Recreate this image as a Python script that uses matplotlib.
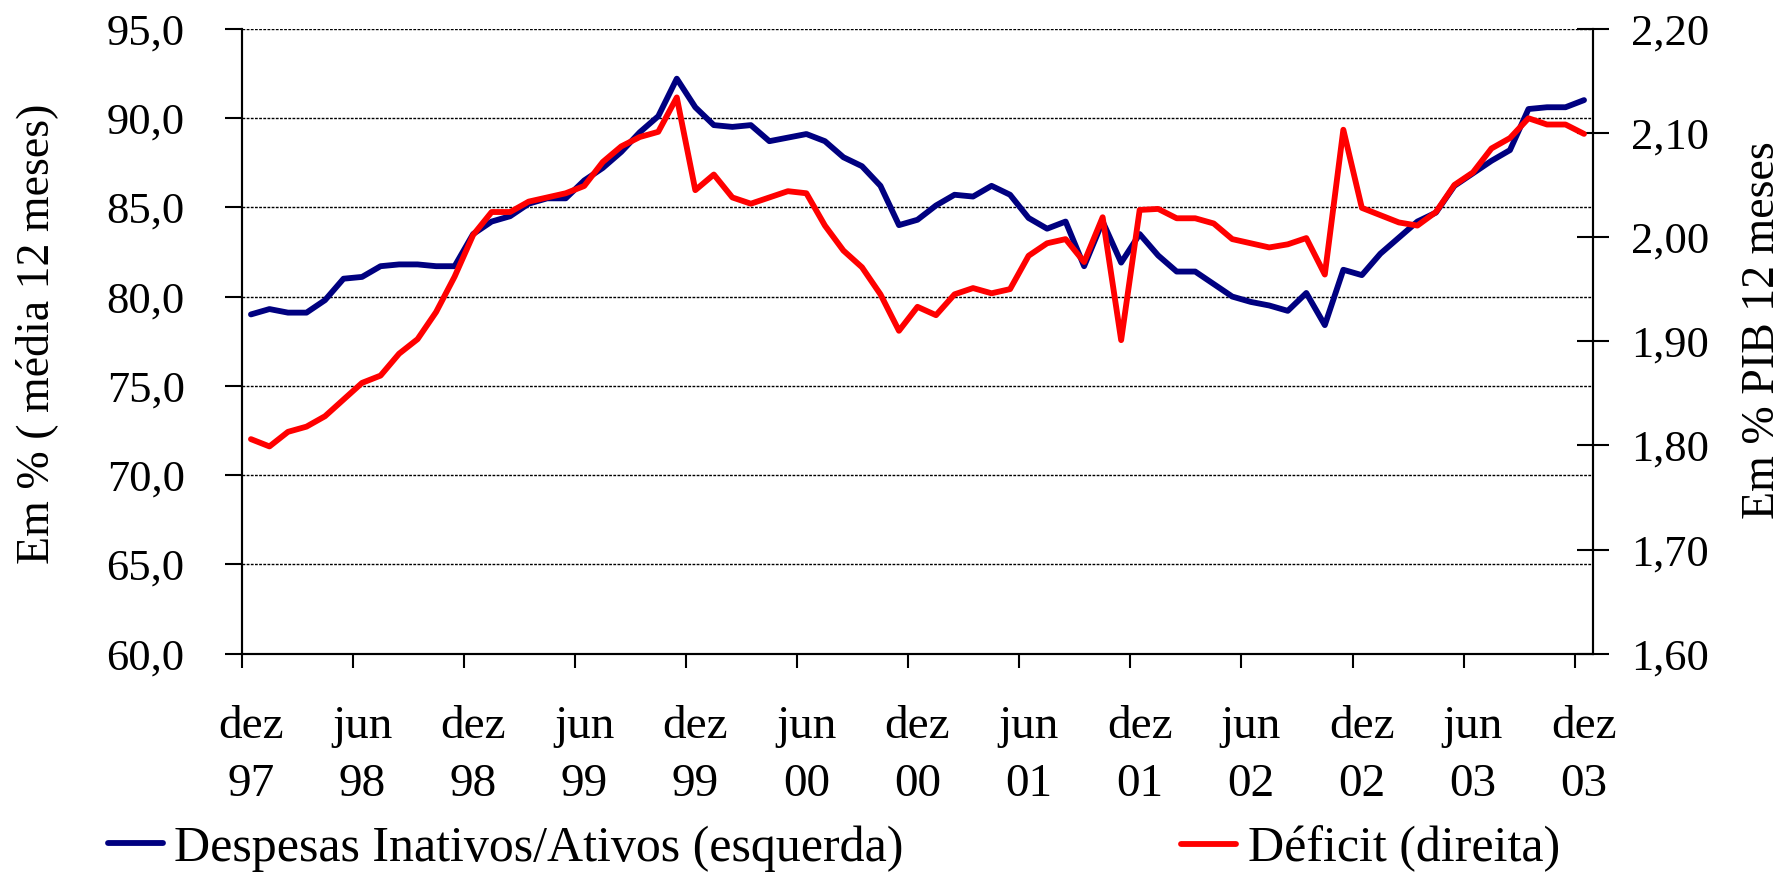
import matplotlib
matplotlib.use("Agg")
import matplotlib.pyplot as plt
import numpy as np
from matplotlib.ticker import FuncFormatter

# monthly data, dez/97 .. dez/03
despesas = [79.0, 79.3, 79.1, 79.1, 79.8, 81.0, 81.1, 81.7, 81.8, 81.8, 81.7, 81.7, 83.5, 84.2, 84.5, 85.2, 85.5, 85.5, 86.5,
            87.2, 88.1, 89.2, 90.1, 92.2, 90.6, 89.6, 89.5, 89.6, 88.7, 88.9, 89.1, 88.7, 87.8, 87.3, 86.2, 84.0, 84.3, 85.1,
            85.7, 85.6, 86.2, 85.7, 84.4, 83.8, 84.2, 81.7, 84.2, 81.9, 83.5, 82.3, 81.4, 81.4, 80.7, 80.0, 79.7, 79.5,
            79.2, 80.2, 78.4, 81.5, 81.2, 82.4, 83.3, 84.2, 84.7, 86.2, 86.9, 87.6, 88.2, 90.5, 90.6, 90.6, 91.0]

deficit = [1.806, 1.799, 1.813, 1.818, 1.828, 1.844, 1.860, 1.867, 1.888, 1.902, 1.928, 1.962, 2.002, 2.024, 2.024, 2.034, 2.038, 2.042, 2.049,
           2.072, 2.087, 2.096, 2.101, 2.134, 2.045, 2.060, 2.038, 2.032, 2.038, 2.044, 2.042, 2.011, 1.987, 1.971, 1.945, 1.910, 1.933, 1.925,
           1.945, 1.951, 1.946, 1.950, 1.982, 1.994, 1.998, 1.976, 2.019, 1.901, 2.026, 2.027, 2.018, 2.018, 2.013, 1.998, 1.994, 1.990,
           1.993, 1.999, 1.964, 2.103, 2.028, 2.021, 2.014, 2.011, 2.024, 2.050, 2.062, 2.085, 2.095, 2.114, 2.108, 2.108, 2.099]

tick_labels = ["dez\n97", "jun\n98", "dez\n98", "jun\n99", "dez\n99", "jun\n00", "dez\n00",
               "jun\n01", "dez\n01", "jun\n02", "dez\n02", "jun\n03", "dez\n03"]

left_ticks = [60, 65, 70, 75, 80, 85, 90, 95]
right_ticks = [1.6, 1.7, 1.8, 1.9, 2.0, 2.1, 2.2]

plt.rcParams['font.family'] = ['Liberation Serif', 'DejaVu Serif']

fig = plt.figure(figsize=(17.89, 8.74), dpi=100)
ax = fig.add_axes([0.1351, 0.252, 0.8906 - 0.1351, 0.9672 - 0.252])
ax2 = ax.twinx()

x = np.arange(len(despesas))
l1, = ax.plot(x, despesas, color='#000080', lw=4.2, solid_joinstyle='round', solid_capstyle='round')
l2, = ax2.plot(x, deficit, color='#ff0000', lw=4.2, solid_joinstyle='round', solid_capstyle='round')

ax.set_xlim(-0.5, 72.5)
ax.set_ylim(60, 95)
ax2.set_ylim(1.6, 2.2)

# dotted grid lines at the left ticks
for v in left_ticks[1:]:
    ax.axhline(v, color='black', lw=1.0, ls=(0, (2, 1)), zorder=0.5)

ax.set_yticks(left_ticks)
ax.yaxis.set_major_formatter(FuncFormatter(lambda v, p: f"{v:.1f}".replace('.', ',')))
ax2.set_yticks(right_ticks)
ax2.yaxis.set_major_formatter(FuncFormatter(lambda v, p: f"{v:.2f}".replace('.', ',')))

ax.set_xticks(np.arange(0, 73, 6))
ax.set_xticklabels(tick_labels, linespacing=1.5)
ax.set_xticks(np.arange(-0.5, 73, 6), minor=True)
ax.tick_params(axis='x', which='major', length=0, pad=37, labelsize=34)
ax.tick_params(axis='x', which='minor', length=10, width=1.5, direction='out')
ax.tick_params(axis='y', length=12, width=1.5, direction='out', pad=29, labelsize=32)
ax2.tick_params(axis='y', length=23, width=1.5, direction='inout', pad=15.5, labelsize=32)

for a in (ax, ax2):
    a.spines['top'].set_visible(False)
    for s in ('left', 'right', 'bottom'):
        a.spines[s].set_linewidth(1.5)

fig.text(0.0207, 0.618, 'Em % ( média 12 meses)', rotation=90, ha='center', va='center', fontsize=33)
fig.text(0.9855, 0.622, 'Em % PIB 12 meses', rotation=90, ha='center', va='center', fontsize=33)

leg_kw = dict(loc='center left', frameon=False, fontsize=36, handlelength=1.1,
              handletextpad=0.23, borderpad=0, borderaxespad=0)
fig.legend([l1], ['Despesas Inativos/Ativos (esquerda)'], bbox_to_anchor=(108 / 1789, 0.029), **leg_kw)
fig.legend([l2], ['Déficit (direita)'], bbox_to_anchor=(1181 / 1789, 0.029), **leg_kw)

fig.savefig('out.png', dpi=100)
